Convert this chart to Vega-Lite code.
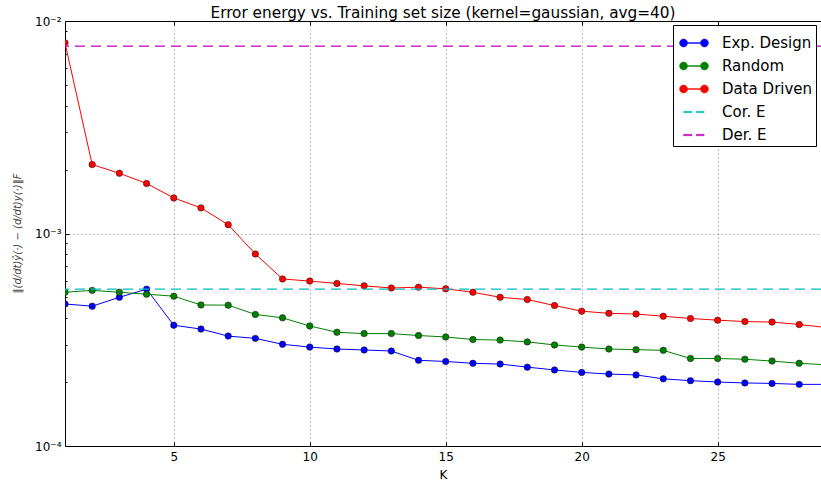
{
  "$schema": "https://vega.github.io/schema/vega-lite/v6.json",
  "width": 756,
  "height": 425,
  "autosize": {"type": "none"},
  "padding": {"left": 65, "top": 21, "right": 0, "bottom": 35},
  "config": {
    "font": "DejaVu Sans",
    "view": {"stroke": "#000000", "strokeWidth": 1},
    "axis": {"labelFont": "DejaVu Sans", "titleFont": "DejaVu Sans", "labelColor": "#000", "titleColor": "#000", "tickColor": "#000", "domain": false}
  },
  "title": {"text": "Error energy vs. Training set size (kernel=gaussian, avg=40)", "fontSize": 15.3, "fontWeight": "normal", "font": "DejaVu Sans", "anchor": "middle", "offset": -6, "color": "#000"},
  "datasets": {
    "curves": [
      {"K": 1, "series": "Exp. Design", "err": 0.000466}, {"K": 2, "series": "Exp. Design", "err": 0.000455}, {"K": 3, "series": "Exp. Design", "err": 0.000501}, {"K": 4, "series": "Exp. Design", "err": 0.000547}, {"K": 5, "series": "Exp. Design", "err": 0.000370}, {"K": 6, "series": "Exp. Design", "err": 0.000355}, {"K": 7, "series": "Exp. Design", "err": 0.000329}, {"K": 8, "series": "Exp. Design", "err": 0.000321}, {"K": 9, "series": "Exp. Design", "err": 0.000301}, {"K": 10, "series": "Exp. Design", "err": 0.000292}, {"K": 11, "series": "Exp. Design", "err": 0.000286}, {"K": 12, "series": "Exp. Design", "err": 0.000283}, {"K": 13, "series": "Exp. Design", "err": 0.000280}, {"K": 14, "series": "Exp. Design", "err": 0.000253}, {"K": 15, "series": "Exp. Design", "err": 0.000250}, {"K": 16, "series": "Exp. Design", "err": 0.000245}, {"K": 17, "series": "Exp. Design", "err": 0.000243}, {"K": 18, "series": "Exp. Design", "err": 0.000235}, {"K": 19, "series": "Exp. Design", "err": 0.000228}, {"K": 20, "series": "Exp. Design", "err": 0.000222}, {"K": 21, "series": "Exp. Design", "err": 0.000218}, {"K": 22, "series": "Exp. Design", "err": 0.000216}, {"K": 23, "series": "Exp. Design", "err": 0.000207}, {"K": 24, "series": "Exp. Design", "err": 0.000203}, {"K": 25, "series": "Exp. Design", "err": 0.000200}, {"K": 26, "series": "Exp. Design", "err": 0.000198}, {"K": 27, "series": "Exp. Design", "err": 0.000197}, {"K": 28, "series": "Exp. Design", "err": 0.000195}, {"K": 29, "series": "Exp. Design", "err": 0.000195},
      {"K": 1, "series": "Random", "err": 0.000529}, {"K": 2, "series": "Random", "err": 0.000540}, {"K": 3, "series": "Random", "err": 0.000529}, {"K": 4, "series": "Random", "err": 0.000518}, {"K": 5, "series": "Random", "err": 0.000507}, {"K": 6, "series": "Random", "err": 0.000461}, {"K": 7, "series": "Random", "err": 0.000460}, {"K": 8, "series": "Random", "err": 0.000416}, {"K": 9, "series": "Random", "err": 0.000401}, {"K": 10, "series": "Random", "err": 0.000367}, {"K": 11, "series": "Random", "err": 0.000343}, {"K": 12, "series": "Random", "err": 0.000338}, {"K": 13, "series": "Random", "err": 0.000338}, {"K": 14, "series": "Random", "err": 0.000331}, {"K": 15, "series": "Random", "err": 0.000326}, {"K": 16, "series": "Random", "err": 0.000317}, {"K": 17, "series": "Random", "err": 0.000315}, {"K": 18, "series": "Random", "err": 0.000309}, {"K": 19, "series": "Random", "err": 0.000299}, {"K": 20, "series": "Random", "err": 0.000292}, {"K": 21, "series": "Random", "err": 0.000286}, {"K": 22, "series": "Random", "err": 0.000284}, {"K": 23, "series": "Random", "err": 0.000282}, {"K": 24, "series": "Random", "err": 0.000258}, {"K": 25, "series": "Random", "err": 0.000258}, {"K": 26, "series": "Random", "err": 0.000256}, {"K": 27, "series": "Random", "err": 0.000251}, {"K": 28, "series": "Random", "err": 0.000245}, {"K": 29, "series": "Random", "err": 0.000241},
      {"K": 1, "series": "Data Driven", "err": 0.00789}, {"K": 2, "series": "Data Driven", "err": 0.00211}, {"K": 3, "series": "Data Driven", "err": 0.00192}, {"K": 4, "series": "Data Driven", "err": 0.00172}, {"K": 5, "series": "Data Driven", "err": 0.00147}, {"K": 6, "series": "Data Driven", "err": 0.00132}, {"K": 7, "series": "Data Driven", "err": 0.00110}, {"K": 8, "series": "Data Driven", "err": 0.000801}, {"K": 9, "series": "Data Driven", "err": 0.000611}, {"K": 10, "series": "Data Driven", "err": 0.000597}, {"K": 11, "series": "Data Driven", "err": 0.000582}, {"K": 12, "series": "Data Driven", "err": 0.000567}, {"K": 13, "series": "Data Driven", "err": 0.000554}, {"K": 14, "series": "Data Driven", "err": 0.000559}, {"K": 15, "series": "Data Driven", "err": 0.000549}, {"K": 16, "series": "Data Driven", "err": 0.000529}, {"K": 17, "series": "Data Driven", "err": 0.000501}, {"K": 18, "series": "Data Driven", "err": 0.000489}, {"K": 19, "series": "Data Driven", "err": 0.000458}, {"K": 20, "series": "Data Driven", "err": 0.000431}, {"K": 21, "series": "Data Driven", "err": 0.000421}, {"K": 22, "series": "Data Driven", "err": 0.000418}, {"K": 23, "series": "Data Driven", "err": 0.000408}, {"K": 24, "series": "Data Driven", "err": 0.000398}, {"K": 25, "series": "Data Driven", "err": 0.000391}, {"K": 26, "series": "Data Driven", "err": 0.000385}, {"K": 27, "series": "Data Driven", "err": 0.000383}, {"K": 28, "series": "Data Driven", "err": 0.000373}, {"K": 29, "series": "Data Driven", "err": 0.000361}
    ],
    "refs": [
      {"series": "Cor. E", "err": 0.000547},
      {"series": "Der. E", "err": 0.00761}
    ]
  },
  "layer": [
    {
      "data": {"name": "curves"},
      "mark": {"type": "line", "strokeWidth": 1, "clip": true},
      "encoding": {
        "x": {"field": "K", "type": "quantitative", "scale": {"domain": [1, 28.8], "nice": false, "zero": false},
          "axis": {"orient": "bottom", "title": "K", "titleFontSize": 12, "titleFontWeight": "normal", "titlePadding": 7, "values": [5, 10, 15, 20, 25], "labelFontSize": 12, "tickSize": -4, "labelPadding": 9, "grid": true, "gridColor": "#888", "gridDash": [1, 3], "gridWidth": 1}},
        "y": {"field": "err", "type": "quantitative", "scale": {"type": "log", "domain": [0.0001, 0.01], "nice": false},
          "axis": {
            "title": "‖(d/dt)ŷ(·) − (d/dt)y(·)‖F",
            "titleFontSize": 10, "titleFontWeight": "normal", "titleFontStyle": "italic", "titleColor": "#444",
            "titleX": -48, "titleY": 212, "titleAngle": -90, "titleAlign": "center", "titleBaseline": "middle",
            "values": [0.0001, 0.0002, 0.0003, 0.0004, 0.0005, 0.0006, 0.0007, 0.0008, 0.0009, 0.001, 0.002, 0.003, 0.004, 0.005, 0.006, 0.007, 0.008, 0.009, 0.01],
            "labelExpr": "datum.value === 0.0001 ? '10⁻⁴' : datum.value === 0.001 ? '10⁻³' : datum.value === 0.01 ? '10⁻²' : ''",
            "labelFontSize": 12, "labelPadding": 8,
            "tickSize": {"condition": {"test": "datum.value === 0.0001 || datum.value === 0.001 || datum.value === 0.01", "value": -4}, "value": -2},
            "grid": true, "gridColor": "#888", "gridDash": [1, 3], "gridWidth": 1,
            "gridOpacity": {"condition": {"test": "datum.value === 0.001", "value": 1}, "value": 0}
          }},
        "color": {"field": "series", "type": "nominal",
          "scale": {"domain": ["Exp. Design", "Random", "Data Driven", "Cor. E", "Der. E"], "range": ["#0000ff", "#008000", "#ff0000", "#00bfbf", "#bf00bf"]},
          "legend": {
            "title": null, "orient": "none", "legendX": 608, "legendY": 4,
            "labelFont": "DejaVu Sans", "labelFontSize": 15, "labelColor": "#000", "labelOffset": 13,
            "labelExpr": "datum.label + '\u00a0\u00a0'",
            "symbolSize": 841, "symbolOffset": 3, "rowPadding": -0.4, "padding": 3,
            "strokeColor": "#000", "fillColor": "#fff", "cornerRadius": 0,
            "encode": {"symbols": {"update": {
              "shape": {"signal": "datum.value === 'Cor. E' || datum.value === 'Der. E' ? 'M-0.72,-0.05H-0.14V0.05H-0.72Z M0.15,-0.05H0.7V0.05H0.15Z' : 'M-0.44,-0.035H0.44V0.035H-0.44Z M-1,0A0.28,0.28 0 1,1 -0.44,0A0.28,0.28 0 1,1 -1,0Z M0.44,0A0.28,0.28 0 1,1 1,0A0.28,0.28 0 1,1 0.44,0Z'"},
              "fill": {"scale": "color", "field": "value"},
              "fillOpacity": {"value": 1},
              "stroke": {"signal": "datum.value === 'Cor. E' || datum.value === 'Der. E' ? 'transparent' : '#222'"},
              "strokeWidth": {"value": 0.4},
              "opacity": {"value": 1}
            }}}
          }}
      }
    },
    {
      "data": {"name": "curves"},
      "mark": {"type": "point", "filled": true, "shape": "circle", "size": 42, "stroke": "#111", "strokeWidth": 0.5, "opacity": 1, "clip": true},
      "encoding": {
        "x": {"field": "K", "type": "quantitative", "axis": {"orient": "top", "labels": false, "grid": false, "title": null, "values": [5, 10, 15, 20, 25], "tickSize": -4}},
        "y": {"field": "err", "type": "quantitative"},
        "color": {"field": "series", "type": "nominal"}
      }
    },
    {
      "data": {"name": "refs"},
      "mark": {"type": "rule", "strokeWidth": 1.3, "strokeDash": [10, 6], "clip": true},
      "encoding": {
        "y": {"field": "err", "type": "quantitative"},
        "color": {"field": "series", "type": "nominal"}
      }
    }
  ]
}
